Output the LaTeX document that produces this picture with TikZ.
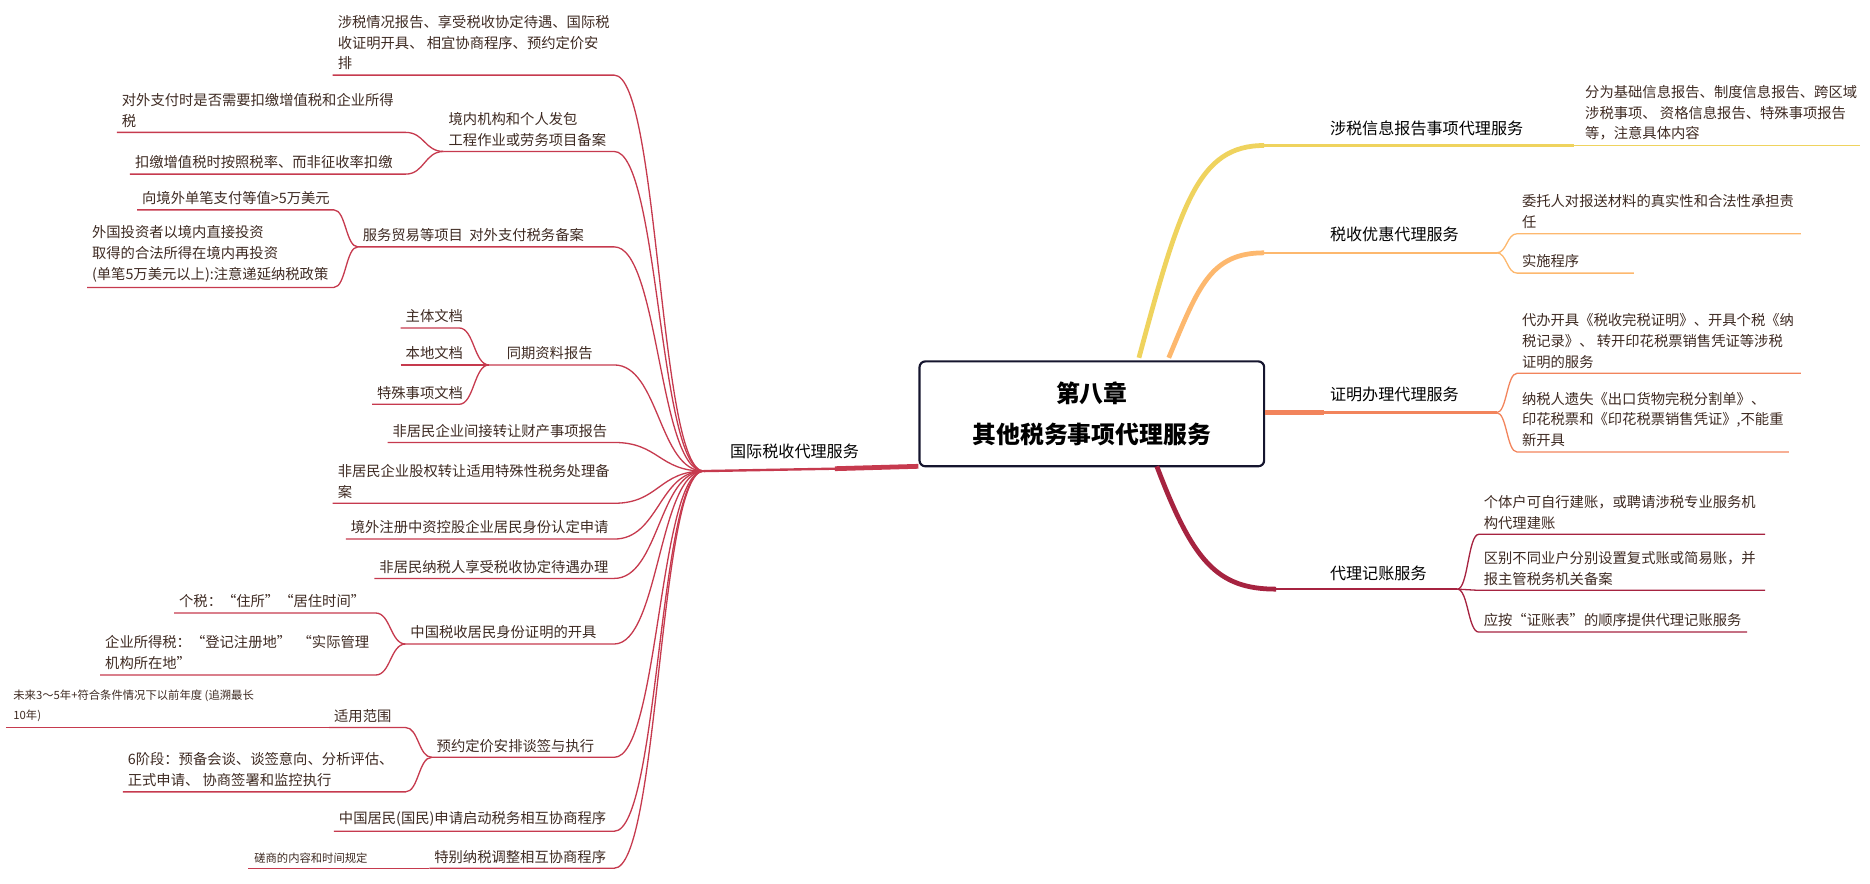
\documentclass[tikz,border=0pt]{standalone}
\usepackage{fontspec}
\setmainfont{Noto Sans CJK SC}
\definecolor{cy}{HTML}{EFD35E}
\definecolor{co}{HTML}{FDB86E}
\definecolor{cc}{HTML}{F2845C}
\definecolor{cd}{HTML}{A62340}
\definecolor{cl}{HTML}{C63A4E}
\definecolor{tx}{HTML}{3E2A22}
\definecolor{nv}{HTML}{15152E}
\tikzset{
 txt/.style={inner sep=0pt,align=left,text=tx,font=\fontsize{12}{17.5}\selectfont},
 sm/.style={inner sep=0pt,align=left,text=tx,font=\fontsize{9.5}{16}\selectfont},
 lab/.style={inner sep=0pt,align=left,text=black,font=\fontsize{13.5}{18}\selectfont},
 ll/.style={cl,line width=1.1pt},
 yl/.style={cy,line width=1.1pt},
 ol/.style={co,line width=1.1pt},
 clr/.style={cc,line width=1.1pt},
 dl/.style={cd,line width=1.1pt}
}
\newcommand\mitem[8]{%
 \node[txt,anchor=south west] (#1) at ({#2+4},{#4-4}) {#8};
 \coordinate (#1-a) at (#2,#4); \coordinate (#1-b) at (#3,#4); \coordinate (#1-p) at (#5,#6);
 \draw[#7] (#1-a) -- (#1-b) .. controls ({(#3+#5)/2},#4) and ({(#3+#5)/2},#6) .. (#1-p);}
\newcommand\ritem[8]{%
 \node[txt,anchor=south west] (#1) at ({#2+4},{#4-4}) {#8};
 \coordinate (#1-a) at (#2,#4); \coordinate (#1-b) at (#3,#4); \coordinate (#1-p) at (#5,#6);
 \draw[#7] (#1-p) .. controls ({(#2+#5)/2},#6) and ({(#2+#5)/2},#4) .. (#1-a) -- (#1-b);}
\begin{document}
\begin{tikzpicture}[x=1pt,y=-1pt]
\useasboundingbox (0,0) rectangle (1568,741);
% center
\node[draw=nv,line width=1.8pt,rounded corners=5pt,minimum width=289pt,minimum height=88pt,align=center,font=\fontsize{20}{34}\selectfont\bfseries] (c) at (915.5,347) {第八章\\其他税务事项代理服务};
% ---------- right ----------
\coordinate (y0) at (955,300); \coordinate (y1) at (1060,122);
\draw[cy,line width=4pt] (y0) .. controls (990,170) and (1005,122) .. (y1);
\draw[cy,line width=2pt] (y1) -- (1320,122);
\node[lab,anchor=south west] (r1) at (1115,114) {涉税信息报告事项代理服务};
\ritem{r1a}{1325}{1560}{122}{1320}{122}{yl}{分为基础信息报告、制度信息报告、跨区域\\涉税事项、 资格信息报告、特殊事项报告\\等，注意具体内容}

\coordinate (o0) at (980,300); \coordinate (o1) at (1060,212);
\draw[co,line width=4pt] (o0) .. controls (1005,240) and (1015,212) .. (o1);
\draw[co,line width=2pt] (o1) -- (1255,212);
\node[lab,anchor=south west] (r2) at (1115,203) {税收优惠代理服务};
\ritem{r2a}{1272}{1510}{196}{1255}{212}{ol}{委托人对报送材料的真实性和合法性承担责\\任}
\ritem{r2b}{1272}{1370}{229}{1255}{212}{ol}{实施程序}

\draw[cc,line width=4pt] (c.east |- 0,346) coordinate (c0) -- (1110,346);
\draw[cc,line width=2pt] (1110,346) -- (1255,346);
\node[lab,anchor=south west] (r3) at (1115,337) {证明办理代理服务};
\ritem{r3a}{1272}{1510}{313}{1255}{346}{clr}{代办开具《税收完税证明》、开具个税《纳\\税记录》、 转开印花税票销售凭证等涉税\\证明的服务}
\ritem{r3b}{1272}{1500}{379}{1255}{346}{clr}{纳税人遗失《出口货物完税分割单》、\\印花税票和《印花税票销售凭证》,不能重\\新开具}

\coordinate (d0) at (970,391); \coordinate (d1) at (1070,494);
\draw[cd,line width=4pt] (d0) .. controls (1000,470) and (1020,494) .. (d1);
\draw[cd,line width=2pt] (d1) -- (1222,494);
\node[lab,anchor=south west] (r4) at (1115,487) {代理记账服务};
\ritem{r4a}{1240}{1480}{448}{1222}{494}{dl}{个体户可自行建账，或聘请涉税专业服务机\\构代理建账}
\ritem{r4b}{1240}{1480}{495}{1222}{494}{dl}{区别不同业户分别设置复式账或简易账，并\\报主管税务机关备案}
\ritem{r4c}{1240}{1465}{530}{1222}{494}{dl}{应按“证账表”的顺序提供代理记账服务}

% ---------- left ----------
\draw[cl,line width=4pt] (c.west |- 0,391) -- (700,393);
\draw[cl,line width=2pt] (700,393) -- (590,395) coordinate (L);
\node[lab,anchor=south west] (l0) at (612,385) {国际税收代理服务};
\mitem{la}{279}{515}{63}{590}{395}{ll}{涉税情况报告、享受税收协定待遇、国际税\\收证明开具、 相宜协商程序、预约定价安\\排}
\mitem{lb}{372}{515}{127}{590}{395}{ll}{境内机构和个人发包\\工程作业或劳务项目备案}
\mitem{lb1}{98}{340}{111}{372}{127}{ll}{对外支付时是否需要扣缴增值税和企业所得\\税}
\mitem{lb2}{109}{340}{146}{372}{127}{ll}{扣缴增值税时按照税率、而非征收率扣缴}
\mitem{lc}{300}{515}{207}{590}{395}{ll}{服务贸易等项目\ \ 对外支付税务备案}
\mitem{lc1}{115}{280}{176}{300}{207}{ll}{向境外单笔支付等值>5万美元}
\mitem{lc2}{73}{280}{241}{300}{207}{ll}{外国投资者以境内直接投资\\取得的合法所得在境内再投资\\(单笔5万美元以上):注意递延纳税政策}
\mitem{ld}{410}{515}{306}{590}{395}{ll}{\ \ \ \ 同期资料报告}
\mitem{ld1}{336}{385}{275}{410}{306}{ll}{主体文档}
\mitem{ld2}{336}{385}{306}{410}{306}{ll}{本地文档}
\mitem{ld3}{312}{385}{339}{410}{306}{ll}{特殊事项文档}
\mitem{le}{325}{515}{371}{590}{395}{ll}{非居民企业间接转让财产事项报告}
\mitem{lf}{279}{515}{422}{590}{395}{ll}{非居民企业股权转让适用特殊性税务处理备\\案}
\mitem{lg}{290}{515}{452}{590}{395}{ll}{境外注册中资控股企业居民身份认定申请}
\mitem{lh}{314}{515}{485}{590}{395}{ll}{非居民纳税人享受税收协定待遇办理}
\mitem{li}{340}{515}{540}{590}{395}{ll}{中国税收居民身份证明的开具}
\mitem{li1}{146}{315}{514}{340}{540}{ll}{个税：“住所”“居住时间”}
\mitem{li2}{84}{315}{566}{340}{540}{ll}{企业所得税：“登记注册地”\ \ “实际管理\\机构所在地”}
\mitem{lj}{362}{515}{635}{590}{395}{ll}{预约定价安排谈签与执行}
\mitem{lj1}{276}{340}{610}{362}{635}{ll}{适用范围}
\node[sm,anchor=south west] (lj1a) at (11,605) {未来3～5年+符合条件情况下以前年度 (追溯最长\\10年)};
\draw[ll] (5,610) coordinate (lj1s) -- (lj1-a);
\mitem{lj2}{103}{340}{664}{362}{635}{ll}{6阶段：预备会谈、谈签意向、分析评估、\\正式申请、 协商签署和监控执行}
\mitem{lk}{280}{515}{697}{590}{395}{ll}{中国居民(国民)申请启动税务相互协商程序}
\mitem{ll}{360}{515}{728}{590}{395}{ll}{特别纳税调整相互协商程序}
\node[sm,anchor=south west] (ll1) at (213,724) {磋商的内容和时间规定};
\draw[ll] (208,728) coordinate (ll1a) -- (ll-a);
\end{tikzpicture}
\end{document}
